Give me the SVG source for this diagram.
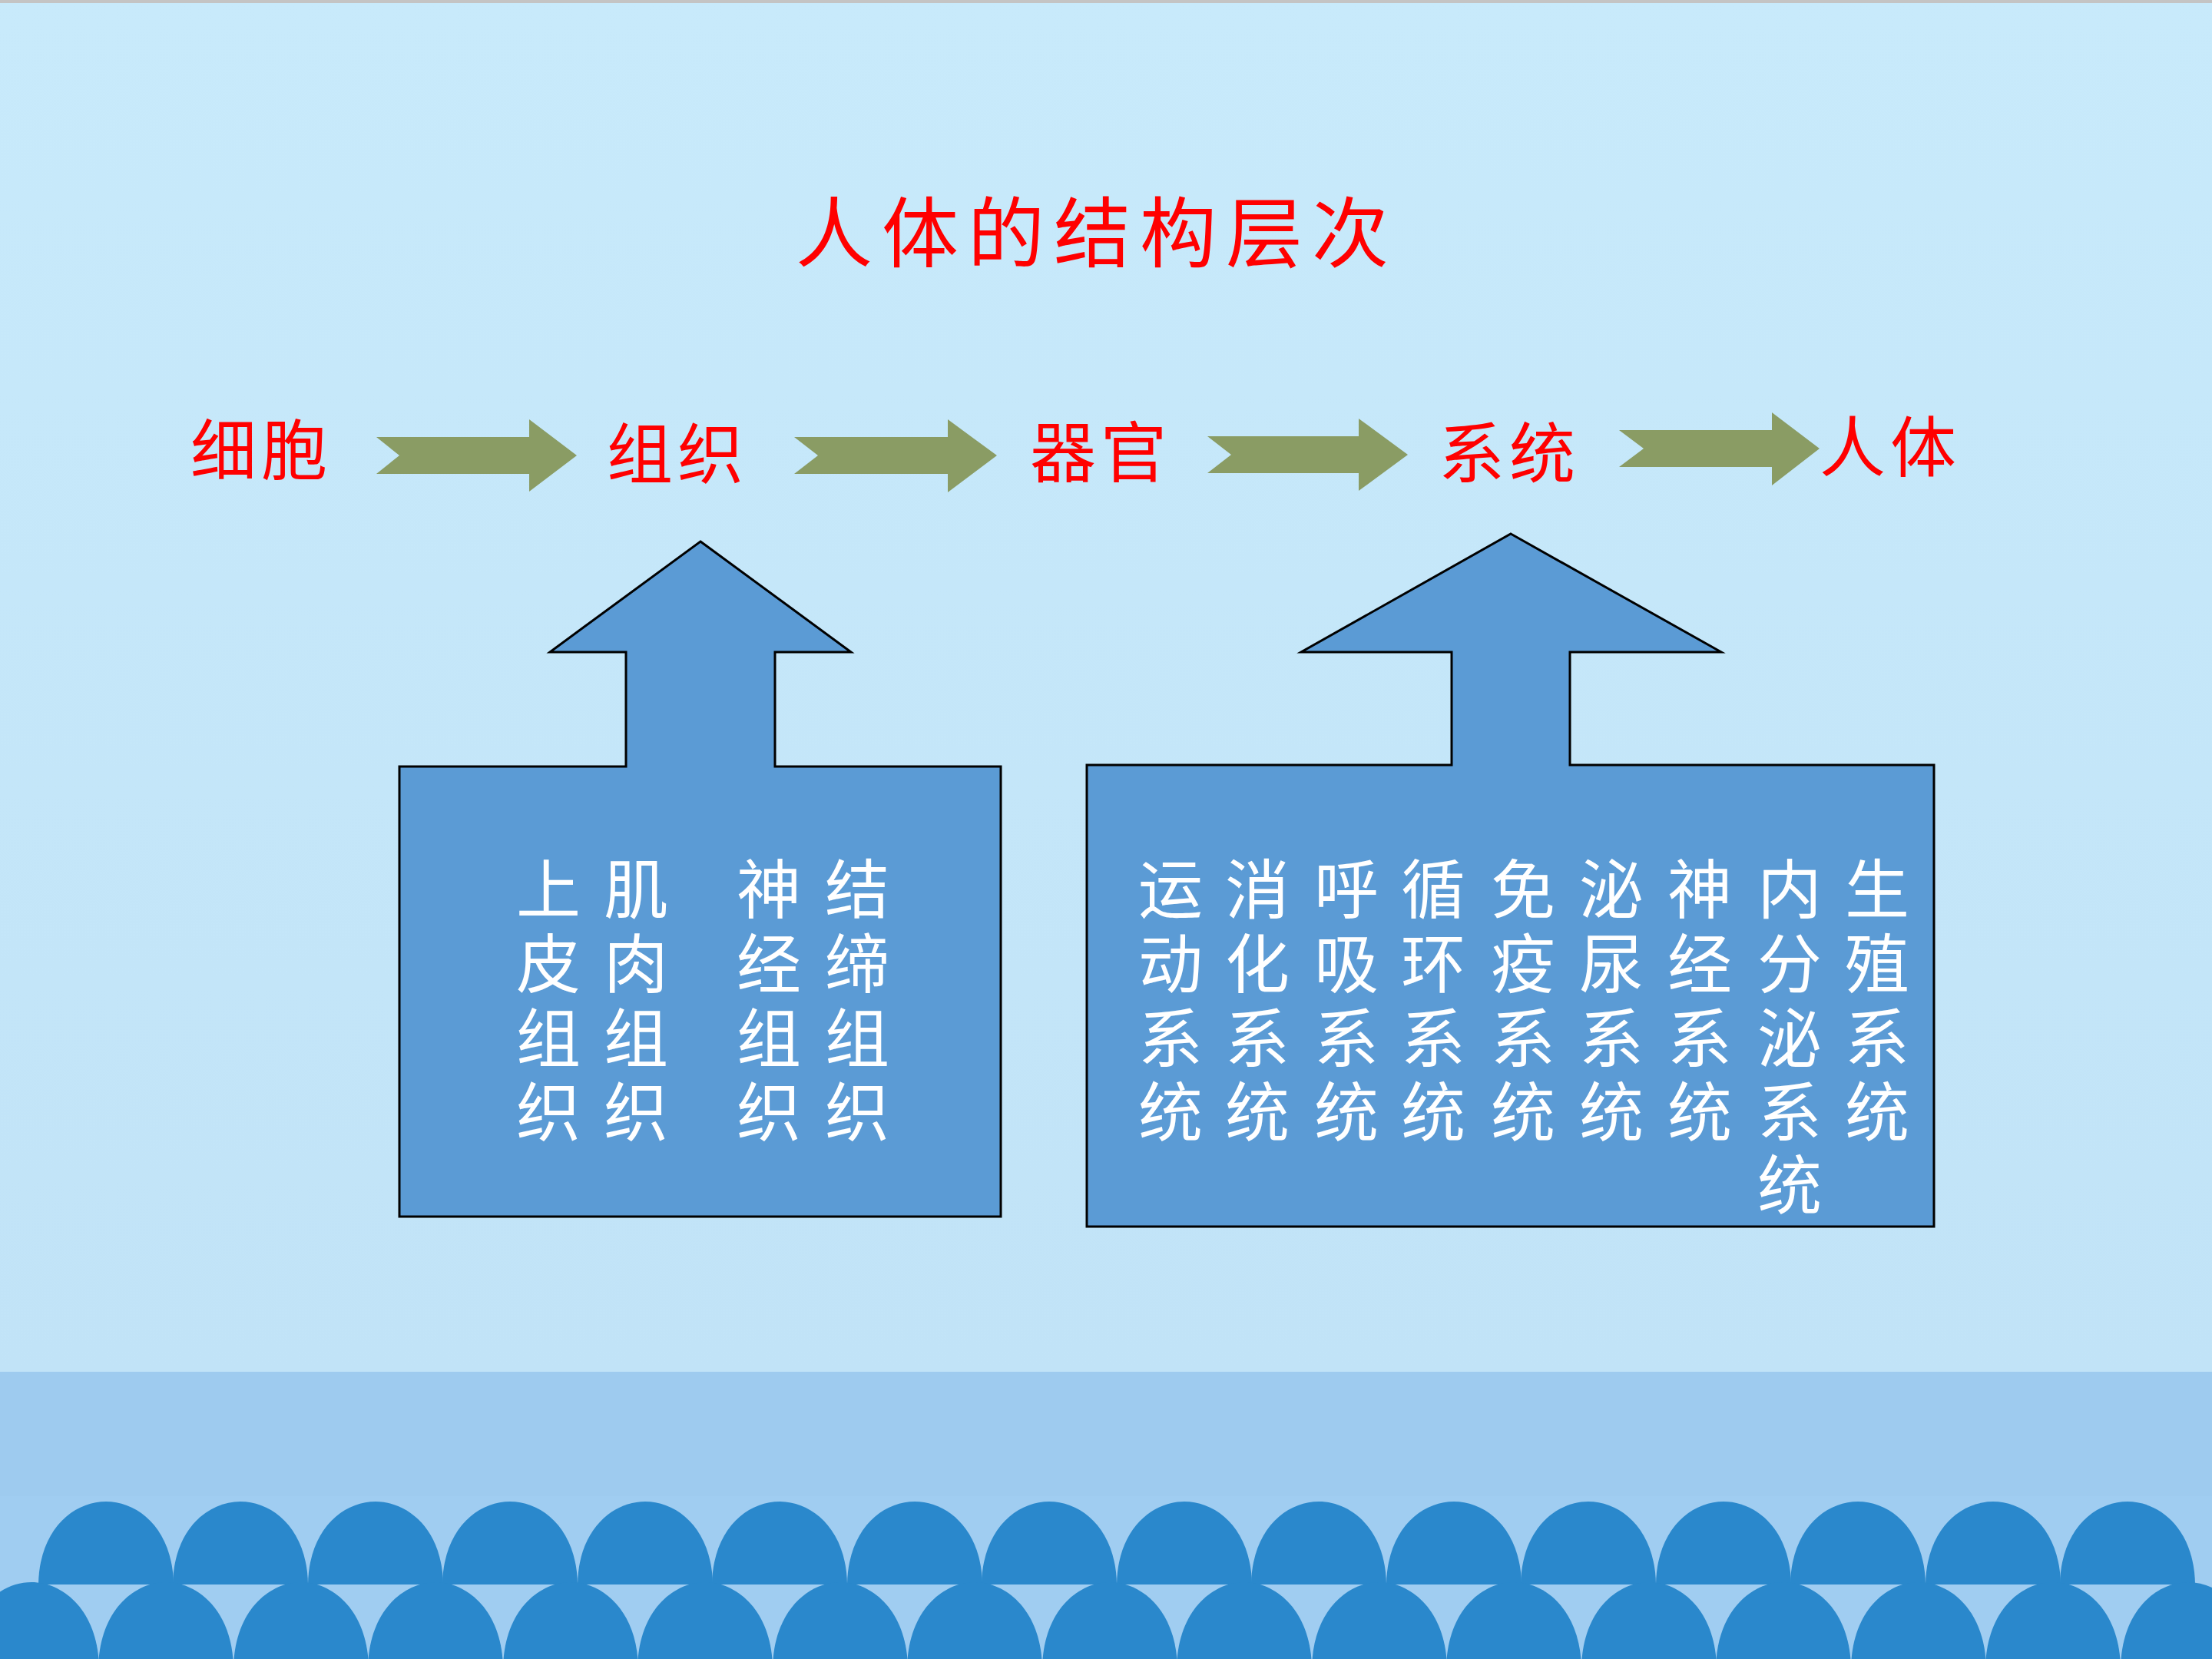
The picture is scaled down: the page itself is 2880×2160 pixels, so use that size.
<svg xmlns="http://www.w3.org/2000/svg" xmlns:xlink="http://www.w3.org/1999/xlink" width="2880" height="2160" viewBox="0 0 2880 2160">
<defs>
<style>
.title{font-family:"Noto Sans CJK SC","Noto Sans CJK TC",sans-serif;font-size:100px;fill:#ff0000;letter-spacing:12px}
.lbl{font-family:"Noto Sans CJK SC","Noto Sans CJK TC",sans-serif;font-size:86px;fill:#ff0000;letter-spacing:6px}
.bt{font-family:"Noto Sans CJK SC","Noto Sans CJK TC",sans-serif;font-size:84px;fill:#ffffff;text-anchor:middle;dominant-baseline:central}
.callout{fill:#5b9bd5;stroke:#000000;stroke-width:3;stroke-linejoin:miter}
.flow{fill:#8a9c64}
.arch{fill:#2a88cc}
</style>
<linearGradient id="bg" x1="0" y1="0" x2="0" y2="1">
<stop offset="0" stop-color="#c8eafb"/>
<stop offset="1" stop-color="#c1e3f7"/>
</linearGradient>
<path id="archU" d="M -88 0 C -87 -72 -42 -108 0 -108 C 42 -108 87 -72 88 0 Z"/>
<path id="archL" d="M -88 0 C -87 -74 -42 -112 0 -112 C 42 -112 87 -74 88 0 Z"/>
</defs>

<rect x="0" y="0" width="2880" height="1786" fill="url(#bg)"/>
<rect x="0" y="0" width="2880" height="4" fill="#c4c4c4"/>
<rect x="0" y="1786" width="2880" height="374" fill="#9ecbef"/>
<rect x="0" y="1948" width="2880" height="212" fill="#a0cdf1"/>

<g id="scallops-upper" class="arch">
<use xlink:href="#archU" x="138" y="2063"/>
<use xlink:href="#archU" x="313" y="2063"/>
<use xlink:href="#archU" x="489" y="2063"/>
<use xlink:href="#archU" x="664" y="2063"/>
<use xlink:href="#archU" x="840" y="2063"/>
<use xlink:href="#archU" x="1015" y="2063"/>
<use xlink:href="#archU" x="1191" y="2063"/>
<use xlink:href="#archU" x="1366" y="2063"/>
<use xlink:href="#archU" x="1542" y="2063"/>
<use xlink:href="#archU" x="1717" y="2063"/>
<use xlink:href="#archU" x="1893" y="2063"/>
<use xlink:href="#archU" x="2068" y="2063"/>
<use xlink:href="#archU" x="2244" y="2063"/>
<use xlink:href="#archU" x="2419" y="2063"/>
<use xlink:href="#archU" x="2595" y="2063"/>
<use xlink:href="#archU" x="2770" y="2063"/>
</g>
<g id="scallops-lower" class="arch">
<use xlink:href="#archL" x="41" y="2172"/>
<use xlink:href="#archL" x="216" y="2172"/>
<use xlink:href="#archL" x="392" y="2172"/>
<use xlink:href="#archL" x="567" y="2172"/>
<use xlink:href="#archL" x="743" y="2172"/>
<use xlink:href="#archL" x="918" y="2172"/>
<use xlink:href="#archL" x="1094" y="2172"/>
<use xlink:href="#archL" x="1269" y="2172"/>
<use xlink:href="#archL" x="1445" y="2172"/>
<use xlink:href="#archL" x="1620" y="2172"/>
<use xlink:href="#archL" x="1796" y="2172"/>
<use xlink:href="#archL" x="1971" y="2172"/>
<use xlink:href="#archL" x="2147" y="2172"/>
<use xlink:href="#archL" x="2322" y="2172"/>
<use xlink:href="#archL" x="2498" y="2172"/>
<use xlink:href="#archL" x="2673" y="2172"/>
<use xlink:href="#archL" x="2849" y="2172"/>
</g>

<g id="title">
<text class="title" x="1036" y="340">人体的结构层次</text>
</g>

<g id="node-cell"><text class="lbl" x="248" y="618">细胞</text></g>
<g id="node-tissue"><text class="lbl" x="790" y="623">组织</text></g>
<g id="node-organ"><text class="lbl" x="1341" y="621">器官</text></g>
<g id="node-system"><text class="lbl" x="1873" y="622">系统</text></g>
<g id="node-body"><text class="lbl" x="2369" y="614">人体</text></g>

<g id="connectors" class="flow">
<polygon points="490,569 689,569 689,546 751,593 689,640 689,617 490,617 520,593"/>
<polygon points="1034,569 1234,569 1234,546 1298,593 1234,641 1234,617 1034,617 1065,593"/>
<polygon points="1572,568 1769,568 1769,545 1833,592 1769,639 1769,616 1572,616 1603,592"/>
<polygon points="2108,560 2307,560 2307,537 2369,584 2307,632 2307,608 2108,608 2140,584"/>
</g>

<g id="callout-tissues">
<polygon class="callout" points="912,705 1108,849 1009,849 1009,998 1303,998 1303,1584 520,1584 520,998 815,998 815,849 716,849"/>
<text class="bt" x="714" y="1152">上</text>
<text class="bt" x="714" y="1249">皮</text>
<text class="bt" x="714" y="1346">组</text>
<text class="bt" x="714" y="1442">织</text>
<text class="bt" x="828" y="1152">肌</text>
<text class="bt" x="828" y="1249">肉</text>
<text class="bt" x="828" y="1346">组</text>
<text class="bt" x="828" y="1442">织</text>
<text class="bt" x="1001" y="1152">神</text>
<text class="bt" x="1001" y="1249">经</text>
<text class="bt" x="1001" y="1346">组</text>
<text class="bt" x="1001" y="1442">织</text>
<text class="bt" x="1116" y="1152">结</text>
<text class="bt" x="1116" y="1249">缔</text>
<text class="bt" x="1116" y="1346">组</text>
<text class="bt" x="1116" y="1442">织</text>
</g>

<g id="callout-systems">
<polygon class="callout" points="1967,695 2241,849 2044,849 2044,996 2518,996 2518,1597 1415,1597 1415,996 1890,996 1890,849 1694,849"/>
<text class="bt" x="1524" y="1152">运</text>
<text class="bt" x="1524" y="1249">动</text>
<text class="bt" x="1524" y="1346">系</text>
<text class="bt" x="1524" y="1442">统</text>
<text class="bt" x="1637" y="1152">消</text>
<text class="bt" x="1637" y="1249">化</text>
<text class="bt" x="1637" y="1346">系</text>
<text class="bt" x="1637" y="1442">统</text>
<text class="bt" x="1753" y="1152">呼</text>
<text class="bt" x="1753" y="1249">吸</text>
<text class="bt" x="1753" y="1346">系</text>
<text class="bt" x="1753" y="1442">统</text>
<text class="bt" x="1866" y="1152">循</text>
<text class="bt" x="1866" y="1249">环</text>
<text class="bt" x="1866" y="1346">系</text>
<text class="bt" x="1866" y="1442">统</text>
<text class="bt" x="1983" y="1152">免</text>
<text class="bt" x="1983" y="1249">疫</text>
<text class="bt" x="1983" y="1346">系</text>
<text class="bt" x="1983" y="1442">统</text>
<text class="bt" x="2098" y="1152">泌</text>
<text class="bt" x="2098" y="1249">尿</text>
<text class="bt" x="2098" y="1346">系</text>
<text class="bt" x="2098" y="1442">统</text>
<text class="bt" x="2213" y="1152">神</text>
<text class="bt" x="2213" y="1249">经</text>
<text class="bt" x="2213" y="1346">系</text>
<text class="bt" x="2213" y="1442">统</text>
<text class="bt" x="2330" y="1152">内</text>
<text class="bt" x="2330" y="1249">分</text>
<text class="bt" x="2330" y="1346">泌</text>
<text class="bt" x="2330" y="1442">系</text>
<text class="bt" x="2330" y="1537">统</text>
<text class="bt" x="2444" y="1152">生</text>
<text class="bt" x="2444" y="1249">殖</text>
<text class="bt" x="2444" y="1346">系</text>
<text class="bt" x="2444" y="1442">统</text>
</g>
</svg>
